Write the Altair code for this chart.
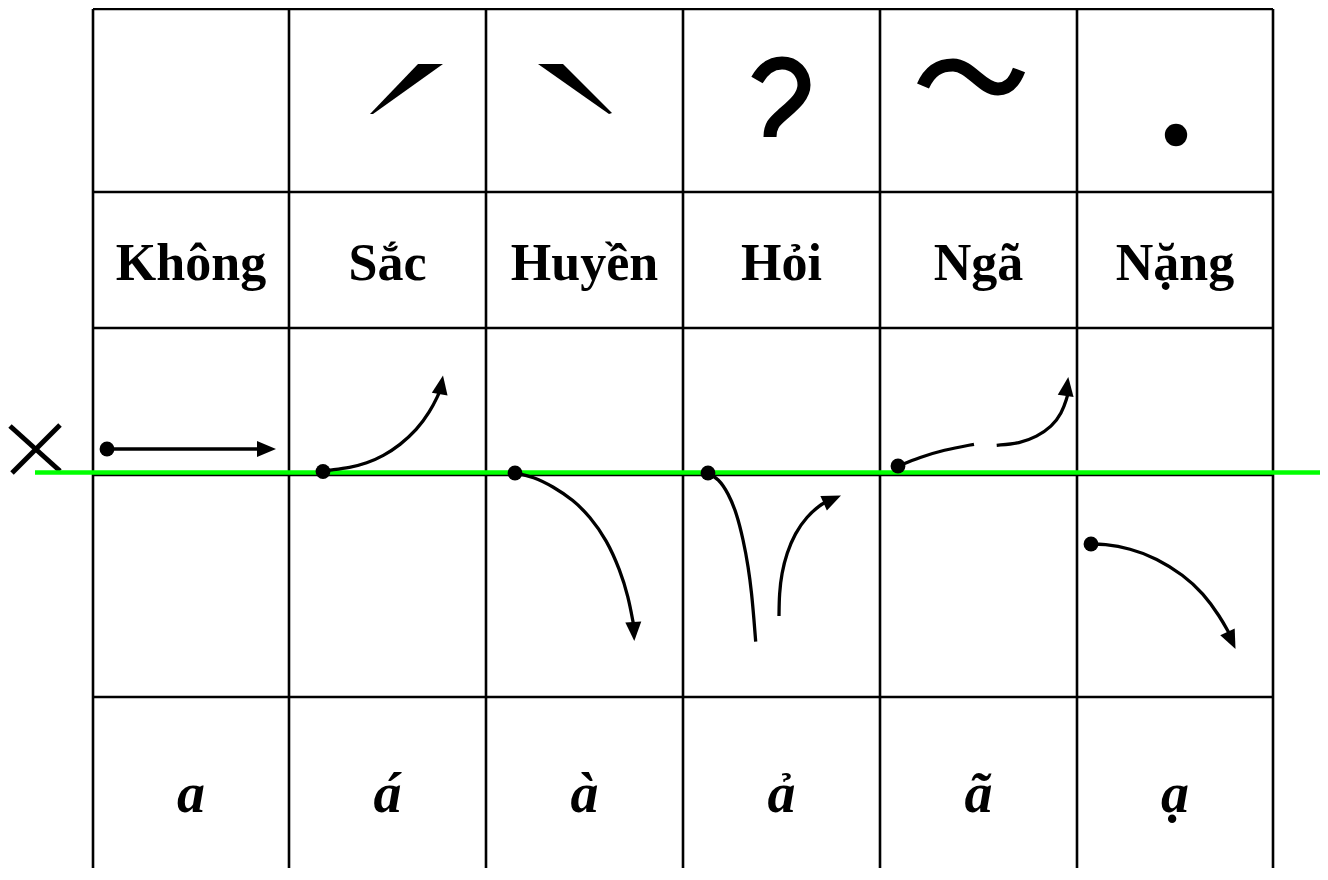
import altair as alt
import pandas as pd

# ---------------- data ----------------
col_edges = [93, 289, 486, 683, 880, 1077, 1273]
row_edges = [9, 192, 328, 475, 697]
grid_bottom = 880
tones = ["Không", "Sắc", "Huyền", "Hỏi", "Ngã", "Nặng"]
examples = ["a", "á", "à", "ả", "ã", "ạ"]
header_baseline = 280
example_baseline = 812

# reference (green) line and cross mark
green_x = [35, 1328]
green_y = 472.5
cross_x1 = [10, 12]
cross_y1 = [426, 473]
cross_x2 = [60, 60]
cross_y2 = [471, 425]

# tone contours
curves = {
    "khong": ([107, 262], [449, 449]),
    "sac": ([323, 330, 350, 366.7, 383.3, 400, 416.7, 430, 438.3, 439.8],
            [471, 470, 467.7, 463.3, 456, 445, 430, 411.7, 395, 391]),
    "huyen": ([515, 533.3, 553.3, 573.3, 590, 606.7, 620, 628.3, 633.3, 634],
              [473, 476.7, 486.7, 500, 516.7, 540, 570, 596.7, 623.3, 627]),
    "hoi1": ([707.7, 718.3, 728.3, 736.7, 743.3, 748.3, 751.7, 754, 755.7],
             [473.3, 478.3, 493.3, 513.3, 540, 566.7, 593.3, 620, 641.7]),
    "hoi2": ([779, 779.3, 781.7, 786.7, 795, 806.7, 820, 827],
             [616, 593.3, 573.3, 553.3, 533.3, 516.7, 505, 501.5]),
    "nga1": ([898.3, 920, 943.3, 974], [466, 457.3, 450, 444.3]),
    "nga2": ([996.7, 1020, 1036.7, 1051.7, 1061.7, 1067, 1068.3],
             [445.3, 443.3, 436.7, 426.7, 413.3, 398, 392]),
    "nang": ([1091, 1103.3, 1130, 1156.7, 1183.3, 1203.3, 1220, 1229],
             [544, 544, 548.3, 558.3, 575, 593.3, 616.7, 633]),
}
dot_x = [107, 323, 515, 708, 898, 1091]
dot_y = [449, 471.5, 473, 473, 466, 544]
tip_x = [276, 443, 634.3, 841, 1068.3, 1235.5]
tip_y = [449, 375.5, 641, 495.5, 377, 649]
tip_angle = [90, 10, 177, 66, 8, 155]

# diacritic glyph positions (top row)
acute_pos = (406, 89)
grave_pos = (575, 89)
hook_pos = (781, 100)
tilde_pos = (971, 77)
dot_pos = (1176, 135)

# ---------------- shapes (styles) ----------------
ARROW = "M0,0L0.42,1L-0.42,1Z"
ACUTE = "M-0.72,0.5L0.24,-0.5L0.74,-0.5L-0.66,0.5Z"
GRAVE = "M-0.74,-0.5L-0.24,-0.5L0.74,0.48L0.68,0.5Z"
HOOK = ("M-0.48,-0.4C-0.32,-0.68,-0.12,-0.74,0.02,-0.74"
        "C0.28,-0.74,0.46,-0.54,0.46,-0.3"
        "C0.46,-0.06,0.22,0.12,0.02,0.3"
        "C-0.14,0.44,-0.22,0.52,-0.22,0.74")
TILDE = ("M-0.96,0.18C-0.82,-0.14,-0.62,-0.24,-0.36,-0.24"
         "C-0.02,-0.24,0.22,0.24,0.54,0.24"
         "C0.74,0.24,0.86,0.12,0.96,-0.14")

W, H = 1312, 860
X0, Y0 = 8, 8
xs = alt.Scale(domain=[X0, X0 + W], nice=False, zero=False)
ys = alt.Scale(domain=[Y0, Y0 + H], nice=False, zero=False, reverse=True)


def X(f="x"):
    return alt.X(f"{f}:Q", scale=xs, axis=None)


def Y(f="y"):
    return alt.Y(f"{f}:Q", scale=ys, axis=None)


# ---------------- tables ----------------
seg_rows = []
for cx in col_edges:
    seg_rows.append({"x": cx, "y": row_edges[0], "x2": cx, "y2": grid_bottom})
for ry in row_edges:
    seg_rows.append({"x": col_edges[0], "y": ry, "x2": col_edges[-1], "y2": ry})
grid_df = pd.DataFrame(seg_rows)

cross_df = pd.DataFrame({"x": cross_x1, "y": cross_y1, "x2": cross_x2, "y2": cross_y2})
green_df = pd.DataFrame({"x": [green_x[0]], "x2": [green_x[1]], "y": [green_y]})

curve_rows = []
for name, (cxs, cys) in curves.items():
    for i, (a, b) in enumerate(zip(cxs, cys)):
        curve_rows.append({"series": name, "i": i, "x": a, "y": b})
curve_df = pd.DataFrame(curve_rows)

dots_df = pd.DataFrame({"x": dot_x, "y": dot_y})
tips_df = pd.DataFrame({"x": tip_x, "y": tip_y, "angle": tip_angle})

centers = [(col_edges[i] + col_edges[i + 1]) / 2 for i in range(len(tones))]
head_df = pd.DataFrame({"x": centers, "y": [header_baseline] * 6, "t": tones})
ex_df = pd.DataFrame({"x": centers, "y": [example_baseline] * 6, "t": examples})

# ---------------- layers ----------------
grid = alt.Chart(grid_df).mark_rule(color="black", strokeWidth=2.6).encode(
    x=X(), y=Y(), x2="x2:Q", y2="y2:Q")

green = alt.Chart(green_df).mark_rule(color="#00ff00", strokeWidth=4.5).encode(
    x=X(), x2="x2:Q", y=Y())

cross = alt.Chart(cross_df).mark_rule(color="black", strokeWidth=5).encode(
    x=X(), y=Y(), x2="x2:Q", y2="y2:Q")

lines = alt.Chart(curve_df).mark_line(
    color="black", strokeWidth=3.3, interpolate="basis").encode(
    x=X(), y=Y(), detail="series:N", order="i:Q")

dots = alt.Chart(dots_df).mark_circle(color="black", size=220, opacity=1).encode(
    x=X(), y=Y())

tips = alt.Chart(tips_df).mark_point(
    shape=ARROW, filled=True, color="black", size=1444, opacity=1, strokeWidth=0).encode(
    x=X(), y=Y(), angle=alt.Angle("angle:Q", scale=None))

heads = alt.Chart(head_df).mark_text(
    font="Liberation Serif", fontWeight="bold", fontSize=52,
    align="center", baseline="alphabetic", color="black").encode(
    x=X(), y=Y(), text="t:N")

exs = alt.Chart(ex_df).mark_text(
    font="Liberation Serif", fontWeight="bold", fontStyle="italic", fontSize=56,
    align="center", baseline="alphabetic", color="black").encode(
    x=X(), y=Y(), text="t:N")


def glyph(pos, shape, filled, size=10000, sw=0):
    df = pd.DataFrame({"x": [pos[0]], "y": [pos[1]]})
    return alt.Chart(df).mark_point(
        shape=shape, filled=filled, color="black", size=size, opacity=1,
        strokeWidth=sw).encode(x=X(), y=Y())


acute = glyph(acute_pos, ACUTE, True)
grave = glyph(grave_pos, GRAVE, True)
hook = glyph(hook_pos, HOOK, False, sw=13)
tilde = glyph(tilde_pos, TILDE, False, sw=13)
nang_dot = alt.Chart(pd.DataFrame({"x": [dot_pos[0]], "y": [dot_pos[1]]})).mark_circle(
    color="black", size=500, opacity=1).encode(x=X(), y=Y())

chart = alt.layer(
    grid, cross, green, lines, dots, tips, heads, exs,
    acute, grave, hook, tilde, nang_dot
).properties(
    width=W, height=H, padding=0,
    autosize=alt.AutoSizeParams(type="none"),
    background="white",
).configure_view(stroke=None)

chart.save("out.html", embed_options={"renderer": "svg", "actions": False})
